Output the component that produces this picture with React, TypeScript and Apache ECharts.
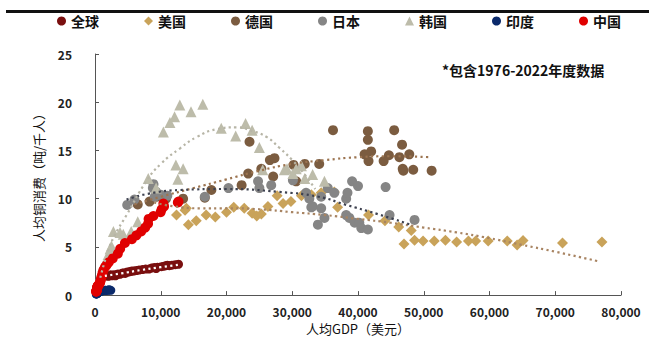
import React, { useEffect, useRef } from "react";
import * as echarts from "echarts";

const legendNames = ["全球", "美国", "德国", "日本", "韩国", "印度", "中国"];

const globalData = [[1500,2.15],[1700,2.0],[2000,1.95],[2200,2.0],[2400,2.1],[2600,2.0],[2700,2.05],[2900,2.1],[3100,2.0],[3300,2.1],[3500,2.2],[3800,2.15],[4200,2.3],[4400,2.3],[4600,2.25],[4900,2.4],[5200,2.4],[5400,2.45],[5600,2.5],[5900,2.5],[6300,2.55],[6700,2.6],[7200,2.65],[7700,2.7],[8200,2.7],[8600,2.8],[9000,2.85],[9300,2.75],[9500,2.9],[10100,2.95],[10500,3.0],[10800,3.05],[11000,3.1],[11300,3.05],[11700,3.1],[12200,3.15],[12700,3.2]];

const usData = [[12400,8.3],[13700,8.8],[13900,9.0],[14200,7.3],[15400,7.7],[16900,8.3],[18300,8.1],[20000,8.6],[21100,9.1],[22700,9.0],[23900,8.5],[24600,8.2],[25300,8.4],[26300,9.2],[27700,10.3],[28600,9.5],[29800,9.7],[31400,10.3],[32900,10.4],[34400,10.6],[36400,10.7],[36900,9.1],[41600,8.3],[44100,7.7],[46200,7.05],[48100,6.7],[47000,5.3],[48600,5.7],[49900,5.6],[51600,5.6],[53300,5.7],[55000,5.5],[56800,5.6],[57900,5.6],[59800,5.6],[62700,5.6],[64200,5.2],[65100,5.65],[71100,5.4],[77100,5.5]];

const deData = [[6500,9.4],[8300,9.7],[9400,10.2],[10800,10.0],[13400,10.0],[16700,10.1],[17700,10.9],[22300,11.4],[23300,12.6],[23500,15.9],[25300,13.1],[26600,14.0],[27300,14.2],[27100,12.3],[30200,13.5],[30600,11.8],[31900,13.6],[34100,13.6],[36200,17.1],[41500,17.0],[45500,17.1],[41500,16.1],[46700,15.6],[42000,14.9],[41000,14.6],[44700,14.5],[46300,14.3],[47800,14.6],[41600,13.9],[43900,13.9],[46800,13.1],[46900,12.9],[48400,13.0],[51200,12.9]];

const jpData = [[4900,9.35],[6000,9.9],[8800,11.1],[8900,11.5],[9300,10.7],[9100,10.2],[10000,10.4],[11000,10.3],[16700,10.2],[20300,11.1],[24800,11.8],[25000,11.1],[26800,11.4],[30100,11.9],[32100,10.6],[32600,10.0],[32900,9.1],[33100,9.2],[33900,7.3],[34400,10.2],[34400,9.0],[34900,8.0],[35400,11.1],[36400,10.6],[38200,10.0],[38400,10.6],[38200,8.3],[38700,8.0],[39100,11.8],[39500,7.5],[40000,11.3],[40200,7.5],[40500,6.95],[41500,6.8],[44200,11.2],[44800,8.3],[48600,7.8]];

const krData = [[800,2.0],[1000,2.5],[1200,3.0],[1700,3.6],[2000,4.2],[2300,4.8],[2500,5.1],[2800,6.6],[3800,6.5],[4300,6.3],[5500,6.6],[6500,7.6],[8100,12.1],[9300,11.1],[10400,16.9],[11400,17.9],[12100,18.5],[12300,13.5],[12600,12.0],[12900,19.7],[13400,13.1],[14600,19.0],[16400,19.8],[19200,17.3],[21400,16.5],[22900,17.8],[23900,17.1],[25000,15.3],[25500,13.0],[28800,13.0],[29200,13.1],[30100,12.6],[30600,13.1],[31400,13.4],[31900,12.1],[33100,12.5],[34900,11.8]];

const inData = [[200,0.1],[220,0.12],[250,0.15],[270,0.15],[300,0.18],[320,0.2],[350,0.2],[380,0.22],[400,0.25],[450,0.25],[500,0.3],[550,0.3],[600,0.35],[700,0.38],[800,0.4],[1000,0.42],[1100,0.45],[1400,0.48],[1500,0.5],[1600,0.5],[1700,0.48],[1900,0.5],[2000,0.52],[2200,0.55],[2400,0.5]];

const cnData = [[180,0.35],[190,0.4],[200,0.38],[220,0.42],[250,0.45],[290,0.5],[300,0.55],[280,0.6],[300,0.65],[320,0.7],[340,0.72],[320,0.8],[360,0.85],[380,0.9],[420,0.95],[530,1.0],[600,1.1],[700,1.2],[780,1.3],[830,1.45],[870,1.6],[960,1.8],[1050,2.0],[1150,2.3],[1290,2.6],[1510,2.9],[1750,3.1],[2100,3.4],[2700,3.8],[3470,4.3],[3830,4.8],[4550,5.4],[5610,5.8],[6300,6.2],[7020,6.6],[7640,7.0],[8070,7.4],[8150,7.9],[8880,8.2],[9980,8.6],[10140,8.9],[10500,9.2],[10400,9.5],[12600,9.6],[12700,9.7]];

// trend lines
const globalTrend = [[1500,2.0],[4000,2.25],[7000,2.6],[10000,2.9],[12900,3.15]];
const usTrend = [[9000,9.6],[12000,9.2],[16000,9.0],[20000,9.0],[25000,8.9],[30000,8.6],[35000,8.3],[40000,7.9],[45000,7.5],[50000,7.0],[55000,6.5],[60000,5.9],[65000,5.2],[70000,4.5],[76600,3.5]];
const deTrend = [[6000,9.4],[10000,10.2],[15000,11.1],[20000,12.0],[25000,12.9],[30000,13.6],[35000,14.0],[40000,14.3],[45000,14.4],[51000,14.3]];
const jpTrend = [[4800,9.9],[8000,10.5],[13000,10.9],[20000,11.0],[28000,10.7],[34000,10.2],[38000,9.4],[43000,8.4],[48000,7.3]];
const krTrend = [[800,1.8],[2000,4.6],[3000,6.2],[4800,8.3],[7800,11.8],[10000,13.6],[12900,15.2],[15500,16.4],[18500,17.2],[21500,17.4],[24000,17.0],[26100,16.4],[28000,15.3],[30000,14.0],[32000,12.4],[33500,11.0]];

const xTicks = [0, 10000, 20000, 30000, 40000, 50000, 60000, 70000, 80000];

const FONT = "'Noto Sans CJK SC', 'Noto Sans', sans-serif";

export default function App() {
  const ref = useRef<HTMLDivElement>(null);
  useEffect(() => {
    document.body.style.margin = "0";
    const chart = echarts.init(ref.current!, null, { renderer: "svg" });
    const dotted = (color: string, data: number[][], z = 5) => ({
      type: "line",
      data,
      smooth: true,
      showSymbol: false,
      symbol: "none",
      silent: true,
      z,
      lineStyle: { color, width: 2.2, type: [2.2, 3.3] },
    });
    const scatter = (name: string, data: number[][], color: string, symbol: string, size: number, z = 2) => ({
      type: "scatter",
      name,
      data,
      symbol,
      symbolSize: size,
      z,
      itemStyle: { color, opacity: 1 },
    });
    chart.setOption({
      animation: false,
      backgroundColor: "#ffffff",
      legend: {
        data: legendNames,
        top: 9,
        left: 52,
        itemWidth: 9,
        itemHeight: 9,
        itemGap: 45,
        textStyle: { fontFamily: FONT, fontSize: 14, fontWeight: "bold", color: "#111" },
      },
      grid: { left: 95, right: 28, top: 54, bottom: 43 },
      xAxis: {
        type: "value",
        min: 0,
        max: 80000,
        interval: 10000,
        name: "人均GDP（美元）",
        nameLocation: "middle",
        nameGap: 24,
        nameTextStyle: { fontFamily: FONT, fontSize: 13, color: "#111" },
        splitLine: { show: false },
        axisLine: { lineStyle: { color: "#555", width: 1 } },
        axisTick: { inside: true, length: 4, lineStyle: { color: "#555" } },
        axisLabel: {
          margin: 10,
          fontFamily: FONT,
          fontSize: 12,
          fontWeight: "bold",
          color: "#222",
          formatter: (v: number) => (xTicks.includes(v) ? v.toLocaleString("en-US") : ""),
        },
      },
      yAxis: {
        type: "value",
        min: 0,
        max: 25,
        interval: 5,
        name: "人均铜消费（吨/千人）",
        nameLocation: "middle",
        nameGap: 50,
        nameTextStyle: { fontFamily: FONT, fontSize: 13, color: "#111" },
        splitLine: { show: false },
        axisLine: { show: true, lineStyle: { color: "#555", width: 1 } },
        axisTick: { show: true, inside: true, length: 4, lineStyle: { color: "#555" } },
        axisLabel: { margin: 23, fontFamily: FONT, fontSize: 12, fontWeight: "bold", color: "#222" },
      },
      graphic: {
        elements: [
          {
            type: "text",
            left: 442,
            top: 63,
            style: { text: "*包含1976-2022年度数据", fontFamily: FONT, fontSize: 14, fontWeight: "bold", fill: "#111" },
          },
        ],
      },
      series: [
        scatter("全球", globalData, "#7a0f0f", "circle", 9, 2),
        scatter("美国", usData, "#c9a35a", "diamond", 11, 2),
        scatter("德国", deData, "#7b5c40", "circle", 10, 2),
        scatter("日本", jpData, "#858585", "circle", 10, 2),
        scatter("韩国", krData, "#bdbcaa", "triangle", 11, 2),
        scatter("印度", inData, "#0b2a6b", "circle", 9, 3),
        scatter("中国", cnData, "#e00000", "circle", 10, 4),
        dotted("#ffffff", globalTrend, 6),
        dotted("#a88462", usTrend),
        dotted("#9c7450", deTrend),
        dotted("#3e4250", jpTrend),
        dotted("#b7b5a6", krTrend),
      ],
    });
    return () => chart.dispose();
  }, []);
  return (
    <div style={{ position: "relative", width: 649, height: 340 }}>
      <div ref={ref} style={{ width: 649, height: 340 }} />
      <div style={{ position: "absolute", left: 6, top: 10, width: 643, height: 3, background: "#111" }} />
    </div>
  );
}
